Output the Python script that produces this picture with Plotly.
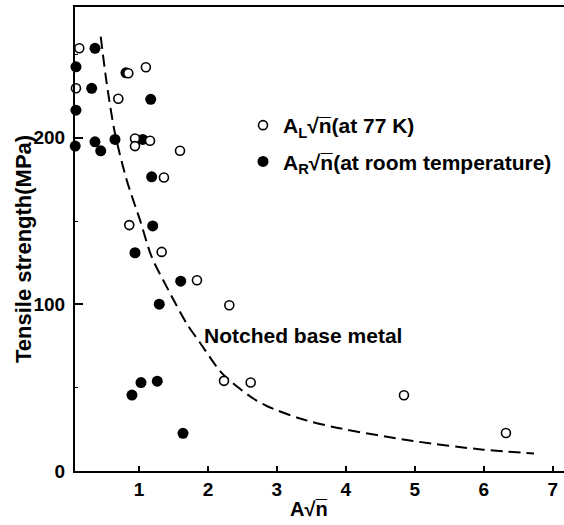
import plotly.graph_objects as go

# ---- data ----
x_tick_vals = [1, 2, 3, 4, 5, 6, 7]
y_tick_vals = [0, 100, 200]
y_tick_text = ["0", "100", "200"]

# A_L sqrt(n) at 77 K (open circles)
al_x = [0.134, 0.086, 0.845, 1.10, 0.70, 0.942, 0.942, 1.16, 1.595, 1.362,
        0.859, 1.329, 1.841, 2.31, 2.233, 2.62, 4.843, 6.322]
al_y = [253.7, 229.7, 238.7, 242.3, 223.4, 199.6, 195.0, 198.2, 192.2, 176.2,
        147.6, 131.5, 114.5, 99.5, 54.1, 53.1, 45.5, 22.8]

# A_R sqrt(n) at room temperature (filled circles)
ar_x = [0.362, 0.086, 0.314, 0.086, 1.17, 0.075, 0.362, 0.445, 0.652, 1.054,
        0.811, 1.184, 1.199, 0.942, 1.605, 1.294, 0.898, 1.029, 1.265, 1.638]
ar_y = [253.7, 242.6, 229.7, 216.6, 223.1, 195.0, 197.6, 192.2, 199.0, 199.0,
        239.0, 176.6, 147.1, 131.0, 113.9, 100.1, 45.6, 53.1, 53.9, 22.6]

# Notched base metal (dashed curve)
curve_x = [0.445, 0.532, 0.652, 0.822, 1.015, 1.184, 1.402, 1.692, 1.885, 2.175,
           2.368, 2.658, 2.852, 3.335, 3.867, 4.978, 5.993, 6.729]
curve_y = [260.7, 232.7, 202.6, 174.6, 150.6, 128.5, 110.5, 88.5, 77.0, 60.0,
           52.5, 43.5, 39.0, 31.5, 26.0, 18.0, 12.8, 10.5]

FONT = "Liberation Sans"

fig = go.Figure()
fig.add_trace(go.Scatter(
    x=curve_x, y=curve_y, mode="lines", showlegend=False, hoverinfo="skip",
    line=dict(color="black", width=2, dash="12px,6px", shape="spline", smoothing=0.8),
))
fig.add_trace(go.Scatter(
    x=ar_x, y=ar_y, mode="markers", legendgroup="b", legendrank=2,
    name="A<sub>R</sub>√n̅(at room temperature)",
    marker=dict(symbol="circle", size=11, color="black", line=dict(width=0)),
    cliponaxis=False,
))
fig.add_trace(go.Scatter(
    x=al_x, y=al_y, mode="markers", legendgroup="a", legendrank=1,
    name="A<sub>L</sub>√n̅(at 77 K)",
    marker=dict(symbol="circle", size=9, color="white", line=dict(color="black", width=1.6)),
    cliponaxis=False,
))

fig.update_layout(
    width=564, height=525,
    margin=dict(l=75, r=0, t=7, b=54),
    paper_bgcolor="white", plot_bgcolor="white",
    font=dict(family=FONT, color="black", size=19, weight="bold"),
    showlegend=True,
    legend=dict(
        x=(243 - 75) / 489, y=(471 - 105) / 464, xanchor="left", yanchor="top",
        bgcolor="rgba(0,0,0,0)", borderwidth=0,
        font=dict(family=FONT, size=21, color="black", weight="bold"),
        traceorder="grouped", tracegroupgap=6, itemsizing="trace",
    ),
    xaxis=dict(
        range=[0.072, 7.164], showgrid=False, zeroline=False,
        showline=True, linecolor="black", linewidth=2, mirror=True,
        ticks="inside", ticklen=5, tickwidth=1.5, tickcolor="black",
        tickvals=x_tick_vals, tickfont=dict(family=FONT, size=19, weight="bold"),
    ),
    yaxis=dict(
        range=[0, 278.5], showgrid=False, zeroline=False,
        showline=True, linecolor="black", linewidth=2,
        ticks="inside", ticklen=8, tickwidth=1.5, tickcolor="black",
        tickvals=y_tick_vals, ticktext=y_tick_text,
        tickfont=dict(family=FONT, size=19, weight="bold"),
        minor=dict(ticks="inside", ticklen=3, tickwidth=1.2, tickcolor="black",
                   tickvals=[50, 150, 250]),
        ticklabelstandoff=4,
    ),
    annotations=[
        dict(text="Notched base metal", x=1.909, y=81.5, xref="x", yref="y",
             xanchor="left", yanchor="middle", showarrow=False,
             font=dict(family=FONT, size=21, weight="bold")),
        dict(text="A√n̅", x=(309 - 75) / 489, y=-(509 - 471) / 464,
             xref="paper", yref="paper", xanchor="center", yanchor="middle",
             showarrow=False, font=dict(family=FONT, size=20, weight="bold")),
        dict(text="Tensile strength(MPa)", x=(23 - 75) / 489, y=(471 - 249) / 464,
             xref="paper", yref="paper", xanchor="center", yanchor="middle",
             textangle=-90, showarrow=False,
             font=dict(family=FONT, size=22, weight="bold")),
    ],
)

fig.write_html("out.html")
